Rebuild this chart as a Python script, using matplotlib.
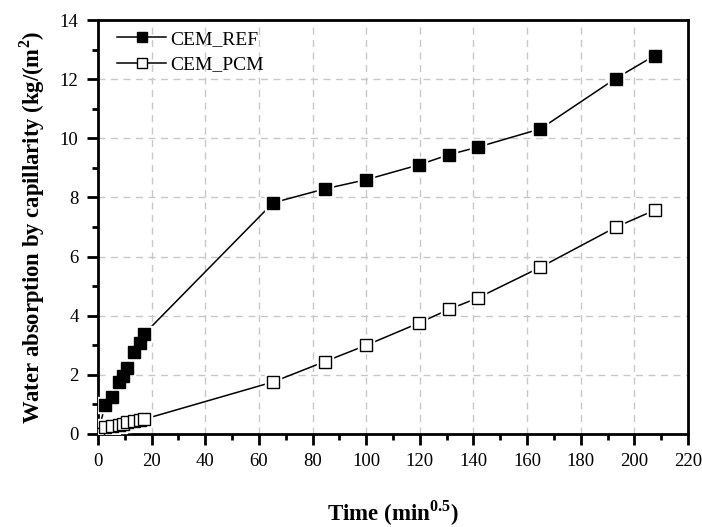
#!/usr/bin/env python3
"""Capillary water absorption of CEM_REF and CEM_PCM vs square root of time."""

import matplotlib
matplotlib.use("Agg")
import matplotlib.pyplot as plt
from matplotlib.ticker import MultipleLocator

plt.rcParams["font.family"] = ["Liberation Serif", "DejaVu Serif"]
plt.rcParams["mathtext.fontset"] = "custom"
plt.rcParams["mathtext.rm"] = "Liberation Serif"
plt.rcParams["mathtext.bf"] = "Liberation Serif:bold"

time_ref = [0, 2.6, 5.1, 7.8, 9.4, 10.9, 13.4, 15.5, 17.2,
            65.3, 84.6, 100.0, 119.6, 131.0, 141.6, 165.0, 193.0, 207.6]
absorp_ref = [0, 0.98, 1.26, 1.77, 1.96, 2.24, 2.78, 3.08, 3.38,
              7.82, 8.29, 8.6, 9.1, 9.45, 9.7, 10.32, 12.02, 12.8]

time_pcm = time_ref
absorp_pcm = [0, 0.22, 0.26, 0.3, 0.34, 0.4, 0.44, 0.46, 0.5,
              1.76, 2.45, 3.0, 3.75, 4.22, 4.6, 5.64, 6.99, 7.57]

fig = plt.figure(figsize=(7.02, 5.27), dpi=100)
ax = fig.add_axes([0.1396, 0.1765, 0.8404, 0.7855])

series = [
    ("CEM_REF", time_ref, absorp_ref, "black"),
    ("CEM_PCM", time_pcm, absorp_pcm, "white"),
]
for name, xs, ys, face in series:
    ax.plot(xs, ys, color="black", lw=1.1, zorder=3)
    # white halo so the line stops short of each marker
    ax.plot(xs, ys, ls="none", marker="s", ms=11, mfc="white", mec="white",
            zorder=4)
    ax.plot(xs, ys, ls="none", marker="s", ms=8, mfc=face, mec="black",
            mew=1.0, zorder=5)

# legend proxies: line - marker - line
for name, xs, ys, face in series:
    ax.plot([], [], color="black", lw=1.1, marker="s", ms=7, mfc=face,
            mec="black", label=name)
leg = ax.legend(loc="upper left", frameon=False, fontsize=14,
                handlelength=2.5, handletextpad=0.2, labelspacing=0.4,
                borderaxespad=0.6, bbox_to_anchor=(0.0, 1.022))

ax.set_xlim(0, 220)
ax.set_ylim(0, 14)
ax.xaxis.set_major_locator(MultipleLocator(20))
ax.xaxis.set_minor_locator(MultipleLocator(10))
ax.yaxis.set_major_locator(MultipleLocator(2))
ax.yaxis.set_minor_locator(MultipleLocator(1))

ax.grid(True, which="major", color="#c8c8c8", linestyle=(0, (5, 4)), lw=1.0,
        zorder=0)
for side in ("left", "bottom", "right", "top"):
    ax.spines[side].set_linewidth(2.0)
ax.tick_params(which="major", direction="out", length=8, width=2,
               labelsize=13.5, pad=6)
ax.tick_params(which="minor", direction="out", length=4.5, width=2)

ax.set_xlabel(r"Time (min$^{\mathbf{0.5}}$)", fontsize=16.5, fontweight="bold",
              labelpad=20)
ax.set_ylabel(r"Water absorption by capillarity (kg/(m$^{\mathbf{2}}$)",
              fontsize=16.3, fontweight="bold", labelpad=9)

fig.savefig("out.png", dpi=100)
print("wrote out.png")
